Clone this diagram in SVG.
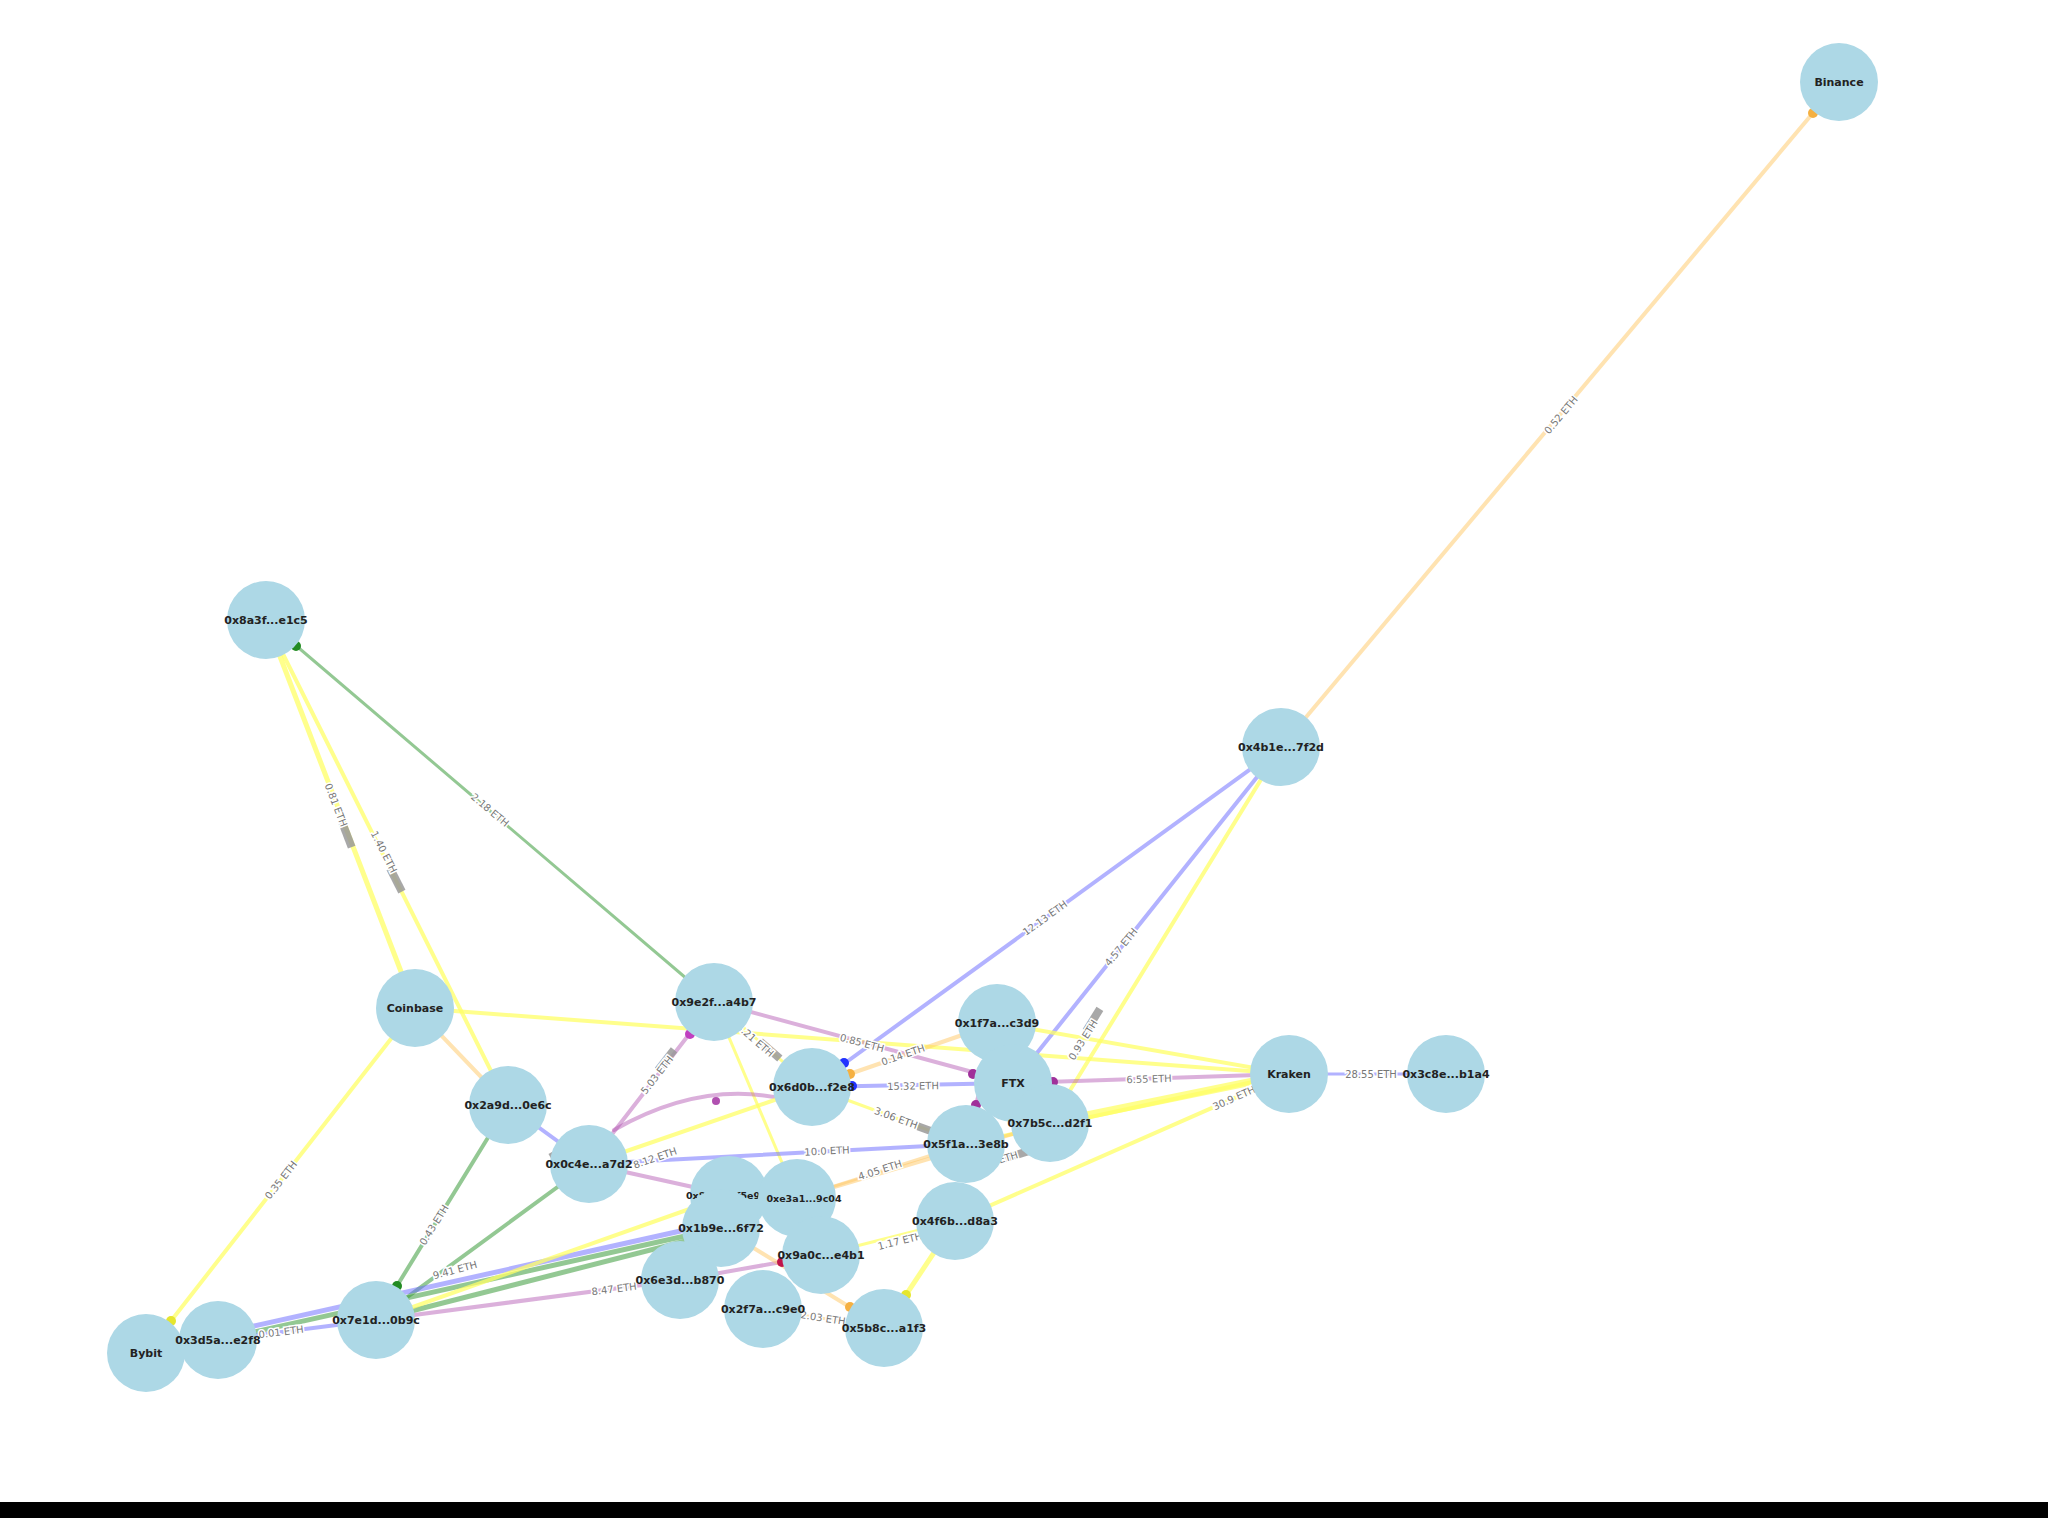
<svg xmlns="http://www.w3.org/2000/svg" width="2048" height="1518" viewBox="0 0 2048 1518">
<style>
.e{fill:none;stroke-linecap:round}
.y{stroke:#ffff66;stroke-opacity:.75}
.o{stroke:#ffc864;stroke-opacity:.5}
.g{stroke:#3a9a3a;stroke-opacity:.55}
.b{stroke:#6666ff;stroke-opacity:.5}
.p{stroke:#b050b0;stroke-opacity:.45}
.el{font-family:"DejaVu Sans",Arial,sans-serif;font-size:10px;fill:#777;stroke:#fff;stroke-width:3px;paint-order:stroke;text-anchor:middle;dominant-baseline:central}
.gb{fill:#999;opacity:.85}
.nd circle{fill:#add8e6}
.nd text{font-family:"DejaVu Sans",Arial,sans-serif;font-size:11px;font-weight:bold;fill:#222;text-anchor:middle;dominant-baseline:central}
</style>
<rect width="2048" height="1518" fill="#fff"/>
<rect x="0" y="1502" width="2048" height="16" fill="#000"/>
<g id="connectors">
<line class="e o" x1="1281" y1="747" x2="1839" y2="82" stroke-width="4"/>
<line class="e g" x1="714" y1="1002" x2="266" y2="620" stroke-width="3"/>
<line class="e y" x1="415" y1="1008" x2="266" y2="620" stroke-width="5"/>
<line class="e y" x1="508" y1="1105" x2="266" y2="620" stroke-width="4"/>
<line class="e y" x1="415" y1="1008" x2="146" y2="1353" stroke-width="4"/>
<line class="e y" x1="415" y1="1008" x2="1289" y2="1074" stroke-width="4"/>
<line class="e o" x1="415" y1="1008" x2="508" y2="1105" stroke-width="4"/>
<line class="e b" x1="1281" y1="747" x2="812" y2="1087" stroke-width="4"/>
<line class="e b" x1="1281" y1="747" x2="1013" y2="1083" stroke-width="4"/>
<line class="e y" x1="1281" y1="747" x2="1050" y2="1123" stroke-width="4"/>
<line class="e p" x1="714" y1="1002" x2="1013" y2="1083" stroke-width="4"/>
<line class="e y" x1="714" y1="1002" x2="812" y2="1087" stroke-width="3"/>
<line class="e y" x1="714" y1="1002" x2="797" y2="1198" stroke-width="3"/>
<line class="e p" x1="589" y1="1164" x2="714" y2="1002" stroke-width="4"/>
<line class="e b" x1="1013" y1="1083" x2="812" y2="1087" stroke-width="4"/>
<line class="e o" x1="997" y1="1023" x2="812" y2="1087" stroke-width="4"/>
<line class="e p" x1="1289" y1="1074" x2="1013" y2="1083" stroke-width="4"/>
<line class="e b" x1="1289" y1="1074" x2="1446" y2="1074" stroke-width="3"/>
<line class="e y" x1="1289" y1="1074" x2="1050" y2="1123" stroke-width="8"/>
<line class="e y" x1="1289" y1="1074" x2="997" y2="1023" stroke-width="4"/>
<line class="e y" x1="1289" y1="1074" x2="955" y2="1221" stroke-width="4"/>
<line class="e y" x1="1289" y1="1074" x2="966" y2="1144" stroke-width="4"/>
<path class="e p" d="M614 1130 Q716 1072 810 1107" stroke-width="4"/>
<line class="e b" x1="508" y1="1105" x2="589" y2="1164" stroke-width="4"/>
<line class="e g" x1="508" y1="1105" x2="376" y2="1320" stroke-width="4"/>
<line class="e g" x1="589" y1="1164" x2="376" y2="1320" stroke-width="4"/>
<line class="e g" x1="218" y1="1340" x2="721" y2="1228" stroke-width="5"/>
<line class="e b" x1="218" y1="1334" x2="721" y2="1222" stroke-width="5"/>
<line class="e g" x1="376" y1="1320" x2="721" y2="1232" stroke-width="5"/>
<line class="e y" x1="376" y1="1320" x2="729" y2="1195" stroke-width="4"/>
<line class="e p" x1="376" y1="1320" x2="680" y2="1280" stroke-width="4"/>
<line class="e b" x1="218" y1="1340" x2="376" y2="1320" stroke-width="4"/>
<line class="e p" x1="680" y1="1280" x2="821" y2="1255" stroke-width="4"/>
<line class="e o" x1="721" y1="1228" x2="884" y2="1328" stroke-width="4"/>
<line class="e y" x1="955" y1="1221" x2="884" y2="1328" stroke-width="5"/>
<line class="e o" x1="763" y1="1309" x2="884" y2="1328" stroke-width="3"/>
<line class="e y" x1="812" y1="1087" x2="966" y2="1144" stroke-width="3"/>
<line class="e b" x1="589" y1="1164" x2="966" y2="1144" stroke-width="4"/>
<line class="e p" x1="997" y1="1023" x2="966" y2="1144" stroke-width="4"/>
<line class="e o" x1="1050" y1="1123" x2="797" y2="1198" stroke-width="4"/>
<line class="e y" x1="589" y1="1164" x2="812" y2="1087" stroke-width="4"/>
<line class="e p" x1="589" y1="1164" x2="729" y2="1195" stroke-width="4"/>
<line class="e o" x1="797" y1="1198" x2="966" y2="1144" stroke-width="3"/>
<line class="e y" x1="821" y1="1255" x2="955" y2="1221" stroke-width="3"/>
<rect class="gb" x="-13" y="-4" width="26" height="8" transform="translate(347,835) rotate(69)"/>
<rect class="gb" x="-13" y="-4" width="26" height="8" transform="translate(396,880) rotate(63)"/>
<rect class="gb" x="-13" y="-4" width="26" height="8" transform="translate(1093,1020) rotate(-58)"/>
<rect class="gb" x="-13" y="-4" width="26" height="8" transform="translate(666,1060) rotate(-52)"/>
<rect class="gb" x="-13" y="-4" width="26" height="8" transform="translate(770,1050) rotate(41)"/>
<rect class="gb" x="-13" y="-4" width="26" height="8" transform="translate(1016,1155) rotate(-17)"/>
<rect class="gb" x="-11" y="-4" width="22" height="8" transform="translate(928,1130) rotate(20)"/>
<rect class="gb" x="-11" y="-4" width="22" height="8" transform="translate(560,1152) rotate(-30)"/>
<text class="el" transform="translate(1561,415) rotate(-50)">0.52 ETH</text>
<text class="el" transform="translate(490,810) rotate(40)">2.18 ETH</text>
<text class="el" transform="translate(336,805) rotate(69)">0.81 ETH</text>
<text class="el" transform="translate(384,852) rotate(63)">1.40 ETH</text>
<text class="el" transform="translate(281,1180) rotate(-52)">0.35 ETH</text>
<text class="el" transform="translate(1045,918) rotate(-36)">12.13 ETH</text>
<text class="el" transform="translate(1121,947) rotate(-51)">4.57 ETH</text>
<text class="el" transform="translate(1083,1040) rotate(-58)">0.93 ETH</text>
<text class="el" transform="translate(862,1043) rotate(15)">0.85 ETH</text>
<text class="el" transform="translate(755,1040) rotate(41)">3.21 ETH</text>
<text class="el" transform="translate(657,1075) rotate(-52)">5.03 ETH</text>
<text class="el" transform="translate(913,1086) rotate(-1)">15.32 ETH</text>
<text class="el" transform="translate(903,1055) rotate(-19)">0.14 ETH</text>
<text class="el" transform="translate(1149,1079) rotate(-2)">6.55 ETH</text>
<text class="el" transform="translate(1371,1074)">28.55 ETH</text>
<text class="el" transform="translate(1234,1098) rotate(-24)">30.9 ETH</text>
<text class="el" transform="translate(434,1225) rotate(-58)">0.43 ETH</text>
<text class="el" transform="translate(614,1289) rotate(-7)">8.47 ETH</text>
<text class="el" transform="translate(281,1332) rotate(-7)">0.01 ETH</text>
<text class="el" transform="translate(823,1318) rotate(9)">2.03 ETH</text>
<text class="el" transform="translate(896,1118) rotate(20)">3.06 ETH</text>
<text class="el" transform="translate(827,1151) rotate(-3)">10.0 ETH</text>
<text class="el" transform="translate(996,1161) rotate(-17)">7.21 ETH</text>
<text class="el" transform="translate(455,1270) rotate(-15)">9.41 ETH</text>
<text class="el" transform="translate(655,1158) rotate(-19)">8.12 ETH</text>
<text class="el" transform="translate(880,1170) rotate(-18)">4.05 ETH</text>
<text class="el" transform="translate(900,1241) rotate(-14)">1.17 ETH</text>
<g id="arrowheads">
<circle cx="1813" cy="113" r="5" fill="#f5b041"/>
<circle cx="296" cy="646" r="5" fill="#228b22"/>
<circle cx="171" cy="1321" r="5" fill="#e6e62e"/>
<circle cx="844" cy="1063" r="5" fill="#2233ff"/>
<circle cx="852" cy="1086" r="5" fill="#2233ff"/>
<circle cx="850" cy="1074" r="5" fill="#f5b041"/>
<circle cx="1053" cy="1082" r="5" fill="#a0309a"/>
<circle cx="973" cy="1074" r="5" fill="#a0309a"/>
<circle cx="397" cy="1286" r="5" fill="#228b22"/>
<circle cx="690" cy="1034" r="5" fill="#c040c0"/>
<circle cx="782" cy="1262" r="5" fill="#c0144a"/>
<circle cx="850" cy="1307" r="5" fill="#f5b041"/>
<circle cx="906" cy="1295" r="5" fill="#e6e62e"/>
<circle cx="976" cy="1105" r="5" fill="#a0309a"/>
<circle cx="716" cy="1101" r="4" fill="#b050b0"/>
</g>
</g>
<g id="nodes" class="nd">
<g id="n1"><circle cx="1839" cy="82" r="39"/><text x="1839" y="82">Binance</text></g>
<g id="n2"><circle cx="266" cy="620" r="39"/><text x="266" y="620">0x8a3f...e1c5</text></g>
<g id="n3"><circle cx="1281" cy="747" r="39"/><text x="1281" y="747">0x4b1e...7f2d</text></g>
<g id="n4"><circle cx="415" cy="1008" r="39"/><text x="415" y="1008">Coinbase</text></g>
<g id="n5"><circle cx="714" cy="1002" r="39"/><text x="714" y="1002">0x9e2f...a4b7</text></g>
<g id="n6"><circle cx="997" cy="1023" r="39"/><text x="997" y="1023">0x1f7a...c3d9</text></g>
<g id="n7"><circle cx="812" cy="1087" r="39"/><text x="812" y="1087">0x6d0b...f2e8</text></g>
<g id="n8"><circle cx="1013" cy="1083" r="39"/><text x="1013" y="1083">FTX</text></g>
<g id="n9"><circle cx="1289" cy="1074" r="39"/><text x="1289" y="1074">Kraken</text></g>
<g id="n10"><circle cx="1446" cy="1074" r="39"/><text x="1446" y="1074">0x3c8e...b1a4</text></g>
<g id="n11"><circle cx="508" cy="1105" r="39"/><text x="508" y="1105">0x2a9d...0e6c</text></g>
<g id="n12"><circle cx="1050" cy="1123" r="39"/><text x="1050" y="1123">0x7b5c...d2f1</text></g>
<g id="n13"><circle cx="966" cy="1144" r="39"/><text x="966" y="1144">0x5f1a...3e8b</text></g>
<g id="n14"><circle cx="589" cy="1164" r="39"/><text x="589" y="1164">0x0c4e...a7d2</text></g>
<g id="n15"><circle cx="729" cy="1195" r="39"/><text x="723" y="1195" style="font-size:9.5px">0x8d2b...f5e9</text></g>
<g id="n16"><circle cx="797" cy="1198" r="39"/><text x="804" y="1198" style="font-size:9.5px">0xe3a1...9c04</text></g>
<g id="n17"><circle cx="955" cy="1221" r="39"/><text x="955" y="1221">0x4f6b...d8a3</text></g>
<g id="n18"><circle cx="721" cy="1228" r="39"/><text x="721" y="1228">0x1b9e...6f72</text></g>
<g id="n19"><circle cx="821" cy="1255" r="39"/><text x="821" y="1255">0x9a0c...e4b1</text></g>
<g id="n20"><circle cx="680" cy="1280" r="39"/><text x="680" y="1280">0x6e3d...b870</text></g>
<g id="n21"><circle cx="763" cy="1309" r="39"/><text x="763" y="1309">0x2f7a...c9e0</text></g>
<g id="n22"><circle cx="884" cy="1328" r="39"/><text x="884" y="1328">0x5b8c...a1f3</text></g>
<g id="n23"><circle cx="376" cy="1320" r="39"/><text x="376" y="1320">0x7e1d...0b9c</text></g>
<g id="n25"><circle cx="146" cy="1353" r="39"/><text x="146" y="1353">Bybit</text></g>
<g id="n24"><circle cx="218" cy="1340" r="39"/><text x="218" y="1340">0x3d5a...e2f8</text></g>
</g>
</svg>
